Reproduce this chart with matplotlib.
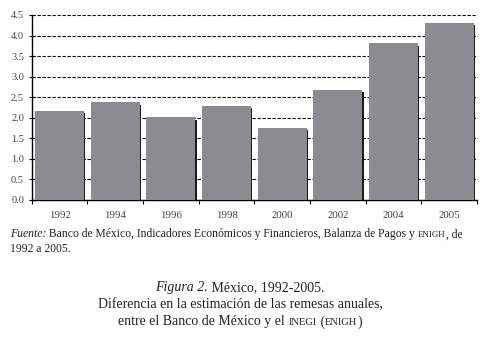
import matplotlib
matplotlib.use("Agg")
import matplotlib.pyplot as plt
from matplotlib.offsetbox import TextArea, HPacker, VPacker, AnchoredOffsetbox
import numpy as np

years = ["1992", "1994", "1996", "1998", "2000", "2002", "2004", "2005"]
values = [2.17, 2.38, 2.01, 2.29, 1.75, 2.68, 3.81, 4.31]
yticks = [0.0, 0.5, 1.0, 1.5, 2.0, 2.5, 3.0, 3.5, 4.0, 4.5]

SERIF = "Liberation Serif"
plt.rcParams["font.family"] = SERIF

fig = plt.figure(figsize=(4.8, 3.4), dpi=100)
ax = fig.add_axes([0.066, 0.412, 0.928, 0.544])

x = np.arange(len(years))
w = 0.88
ax.bar(x + 0.025, np.array(values) - 0.06, width=w, color="#1a1a1a", zorder=2)
ax.bar(x, values, width=w, color="#8c8c90", zorder=3)

ax.set_xlim(-0.5, len(years) - 0.5)
ax.set_ylim(0, 4.5)
ax.set_yticks(yticks)
ax.set_yticklabels([f"{v:.1f}" for v in yticks])
ax.yaxis.grid(True, linestyle=(0, (3, 1.5)), color="black", linewidth=0.8, zorder=1)
ax.set_axisbelow(True)
for s in ["top", "right"]:
    ax.spines[s].set_visible(False)
ax.spines["left"].set_linewidth(1.0)
ax.spines["bottom"].set_linewidth(1.0)
ax.set_xticks(x)
ax.set_xticklabels(years)
ax.set_xticks(np.arange(-0.5, len(years)), minor=True)
ax.tick_params(axis="x", which="major", length=0, pad=8, labelsize=7.8)
ax.tick_params(axis="x", which="minor", length=3, direction="out", width=0.8)
ax.tick_params(axis="y", which="major", length=5, direction="inout", width=0.8, labelsize=7.5, pad=3)
for t in ax.get_yticklabels() + ax.get_xticklabels():
    t.set_color("#444444")
ax.tick_params(axis="both", color="black")

fs = 8.4
sc = 6.4
def ta(s, size=fs, style="normal"):
    return TextArea(s, textprops=dict(fontsize=size, fontstyle=style, family=SERIF, color="#222222"))

line1 = HPacker(children=[ta("Fuente:", style="italic"),
                          ta(" Banco de México, Indicadores Económicos y Financieros, Balanza de Pagos y "),
                          ta("ENIGH", size=sc), ta(", de")],
                align="baseline", pad=0, sep=0)
line2 = HPacker(children=[ta("1992 a 2005.")], align="baseline", pad=0, sep=0)
src = VPacker(children=[line1, line2], align="left", pad=0, sep=2)
ab = AnchoredOffsetbox(loc="upper left", child=src, bbox_to_anchor=(0.021, 0.328),
                       bbox_transform=fig.transFigure, frameon=False, pad=0, borderpad=0)
fig.add_artist(ab)

cfs = 10.0
csc = 7.6
c1 = HPacker(children=[ta("Figura 2.", size=cfs, style="italic"), ta(" México, 1992-2005.", size=cfs)],
             align="baseline", pad=0, sep=0)
c2 = HPacker(children=[ta("Diferencia en la estimación de las remesas anuales,", size=cfs)],
             align="baseline", pad=0, sep=0)
c3 = HPacker(children=[ta("entre el Banco de México y el ", size=cfs), ta("INEGI", size=csc),
                       ta(" (", size=cfs), ta("ENIGH", size=csc), ta(")", size=cfs)],
             align="baseline", pad=0, sep=0)
cap = VPacker(children=[c1, c2, c3], align="center", pad=0, sep=3)
ab2 = AnchoredOffsetbox(loc="upper center", child=cap, bbox_to_anchor=(0.5, 0.174),
                        bbox_transform=fig.transFigure, frameon=False, pad=0, borderpad=0)
fig.add_artist(ab2)

fig.savefig("out.png", dpi=100, facecolor="white")
